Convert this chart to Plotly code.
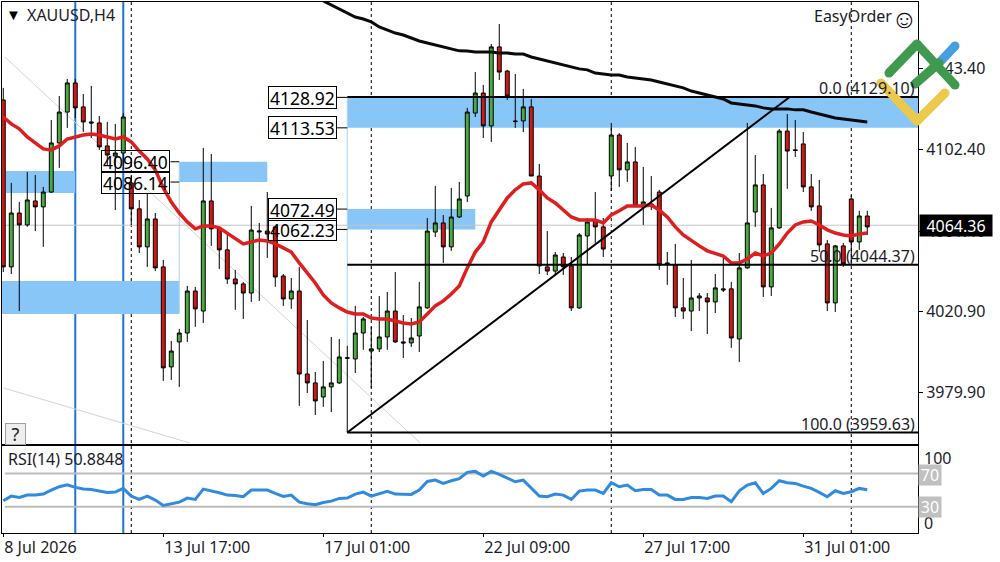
import plotly.graph_objects as go

W, H = 1000, 562
FONT = "Noto Sans"
TXT = "#1c1c28"

opens = [4127.6,4043.3,4070.5,4064.5,4076.6,4073.6,4081.1,4105.9,4121.5,4136.2,
 4124.1,4116.5,4116.0,4104.4,4099.3,4100.8,4085.7,4072.6,4053.4,4067.5,
 4043.3,3992.8,4005.4,4009.9,4031.1,4021.0,4076.6,4062.5,4051.9,4037.2,
 4034.7,4030.1,4060.9,4061.4,4063.5,4038.7,4027.1,4031.1,3989.2,3984.7,
 3977.6,3982.7,3984.7,3997.4,3996.8,4009.9,4000.8,4001.9,4007.9,4021.0,
 4005.4,4004.9,4008.4,4022.6,4060.9,4065.5,4053.4,4068.5,4079.1,4121.0,
 4131.1,4114.5,4154.4,4142.2,4117.0,4117.0,4124.1,4089.2,4043.3,4041.2,
 4048.3,4043.8,4022.6,4058.9,4067.0,4063.5,4089.2,4109.9,4092.3,4096.3,
 4073.6,4075.1,4081.1,4045.3,4044.3,4022.6,4021.0,4027.6,4027.6,4025.6,
 4032.2,4032.2,4006.9,4042.8,4071.0,4084.7,4033.2,4063.0,4111.9,4102.4,
 4105.4,4083.7,4074.1,4054.9,4025.1,4053.9,4077.6,4055.9,4069.0]
highs = [4133.7,4085.7,4076.1,4091.2,4089.7,4083.7,4117.5,4129.6,4138.2,4138.2,
 4130.6,4134.7,4119.5,4116.5,4115.5,4121.0,4089.7,4077.1,4080.6,4070.5,
 4046.8,4005.9,4012.0,4033.7,4033.2,4103.4,4100.3,4063.5,4060.4,4041.8,
 4035.7,4074.1,4065.5,4081.1,4064.0,4039.7,4037.7,4043.3,4016.5,3990.2,
 3995.8,4007.9,4006.9,4003.4,4023.6,4018.0,4013.0,4028.6,4030.6,4040.7,
 4019.0,4017.5,4035.7,4068.0,4084.2,4069.5,4083.2,4086.2,4123.6,4141.7,
 4135.2,4155.9,4166.0,4142.8,4140.7,4133.2,4128.1,4095.3,4061.4,4050.8,
 4050.3,4048.3,4060.4,4068.0,4081.1,4068.0,4116.0,4110.9,4105.9,4103.9,
 4093.8,4089.2,4082.2,4050.8,4054.9,4037.7,4046.8,4030.1,4030.1,4039.7,
 4047.8,4035.7,4050.3,4116.0,4099.8,4090.2,4073.1,4112.9,4120.5,4117.5,
 4111.4,4090.2,4087.2,4056.9,4054.4,4055.4,4079.6,4071.6,4071.6]
lows = [4040.7,4039.7,4021.0,4063.5,4061.4,4053.4,4080.6,4093.3,4113.5,4118.5,
 4111.4,4108.4,4102.4,4094.8,4072.0,4092.3,4064.5,4050.3,4043.3,4041.2,
 3985.7,3986.2,3982.7,4005.4,4013.0,4015.0,4053.9,4042.2,4034.7,4021.6,
 4017.0,4025.6,4026.1,4047.8,4033.2,4023.6,4022.1,3973.1,3979.6,3968.5,
 3972.6,3970.0,3984.2,3959.63,3989.7,4001.4,3982.2,4000.3,4001.4,4004.9,
 3997.3,4002.9,4000.3,4022.1,4058.4,4045.3,4051.4,4068.0,4076.1,4119.0,
 4108.4,4106.4,4137.7,4127.6,4113.5,4111.4,4089.2,4039.7,4039.2,4039.2,
 4039.2,4021.0,4022.1,4044.3,4055.4,4048.3,4081.6,4083.7,4086.2,4073.6,
 4064.5,4072.0,4041.8,4034.2,4018.0,4017.0,4010.9,4021.0,4009.4,4020.0,
 4030.6,4002.4,3995.3,4042.3,4063.5,4028.1,4028.6,4062.5,4082.7,4098.8,
 4081.1,4071.6,4050.8,4021.0,4020.5,4043.3,4044.8,4051.9,4059.4]
closes = [4043.3,4070.5,4064.5,4077.1,4073.6,4081.1,4105.9,4121.5,4136.2,4123.6,
 4116.5,4116.0,4103.9,4099.8,4100.8,4119.0,4072.6,4053.4,4067.5,4042.8,
 3992.3,4000.8,4009.9,4031.1,4022.1,4076.6,4062.5,4051.9,4037.2,4034.7,
 4030.1,4061.9,4061.4,4059.9,4038.2,4027.1,4031.1,3989.2,3984.7,3975.6,
 3982.7,3984.7,3997.8,3997.2,4009.9,4017.0,4001.9,4007.9,4021.0,4005.4,
 4004.9,4007.4,4023.1,4061.4,4065.5,4053.4,4068.5,4077.6,4121.5,4131.1,
 4114.5,4154.4,4141.7,4129.6,4116.7,4124.1,4089.2,4043.8,4041.2,4049.3,
 4043.3,4022.6,4059.4,4066.0,4063.5,4052.3,4109.9,4092.3,4096.3,4074.1,
 4076.1,4074.6,4044.3,4044.8,4022.6,4021.0,4027.6,4028.6,4025.6,4032.7,
 4031.7,4007.4,4042.8,4065.5,4084.7,4033.2,4063.0,4111.9,4101.8,4102.1,
 4083.7,4073.6,4054.4,4025.1,4053.9,4044.8,4055.9,4069.0,4063.5]

ma_red = [4119.0,4115.5,4113.0,4108.9,4105.9,4102.9,4102.4,4104.4,4107.9,4108.9,
 4109.9,4110.4,4109.9,4108.9,4107.9,4108.9,4106.4,4101.8,4097.8,4092.3,
 4083.2,4076.1,4070.5,4066.0,4062.5,4064.0,4064.0,4063.0,4060.4,4057.9,
 4054.9,4055.9,4056.9,4056.4,4054.9,4052.9,4050.8,4045.3,4040.2,4035.2,
 4029.1,4025.1,4022.6,4020.5,4019.5,4019.5,4017.5,4017.0,4017.0,4016.0,
 4015.0,4014.5,4015.5,4019.5,4023.6,4026.1,4029.6,4033.7,4042.8,4050.8,
 4055.9,4066.0,4072.0,4078.1,4082.2,4085.2,4085.7,4082.2,4078.1,4075.6,
 4072.0,4068.5,4067.0,4067.0,4067.0,4065.5,4069.5,4071.6,4074.1,4074.1,
 4074.1,4074.6,4072.0,4068.5,4063.5,4059.4,4056.4,4053.9,4051.4,4050.3,
 4048.8,4045.3,4045.3,4047.3,4050.3,4048.8,4050.3,4054.9,4060.4,4064.5,
 4066.0,4066.5,4064.5,4062.0,4060.4,4059.4,4058.9,4059.9,4060.4]

ma_black_start = 40
ma_black = [4177.6,4175.6,4173.6,4171.5,4169.5,4168.5,4167.0,4164.5,4162.9,4161.4,
 4160.4,4158.9,4157.4,4156.4,4155.4,4154.4,4153.4,4152.4,4152.3,4151.8,
 4151.8,4151.8,4151.3,4151.3,4150.8,4150.8,4149.3,4148.3,4147.3,4146.3,
 4145.3,4144.3,4143.3,4142.8,4141.2,4140.7,4140.2,4140.2,4139.2,4138.7,
 4138.2,4137.7,4136.7,4135.7,4134.7,4133.7,4132.1,4131.1,4130.1,4129.1,
 4128.1,4126.1,4125.6,4125.1,4124.6,4123.6,4123.1,4123.1,4123.1,4122.6,
 4122.6,4121.5,4120.5,4119.5,4118.5,4118.0,4117.5,4117.0,4116.5]

rsi = [37.2,42.8,41.2,44,44,45.2,50,54,56.4,53.2,
 51.2,50.8,48.8,47.2,47.6,52,42.8,38.8,42.8,38,
 31.6,33.2,35.6,40.4,38.8,51.2,49.2,46.8,44,43.6,
 42,50,50,50,46,42.4,44,35.6,33.6,32.4,
 35.2,36.8,40,40.4,45.2,47.6,42.8,45.2,48.4,45.2,
 44.8,44.8,50,60.4,62,58,61.2,63.6,71.2,72.4,
 66.8,72.4,68.8,64.8,60,62,52,42.8,42,45.2,
 44,38.8,48.8,50,50,46,58.8,54,56,49.2,
 50.8,50.8,44,44,38.8,38.8,41.2,41.2,40,42.8,
 42.8,36,49.2,56,58.8,46,52,61.2,58.8,58,
 54.8,52,47.2,42,49.2,46,48,52,50.4]

bar_index = list(range(len(closes)))
tick_index = [0, 20, 40, 60, 80, 100]
tick_text = ["8 Jul 2026", "13 Jul 17:00", "17 Jul 01:00", "22 Jul 09:00", "27 Jul 17:00", "31 Jul 01:00"]
price_ticks = [4143.40, 4102.40, 4061.40, 4020.90, 3979.90]
last_price = 4064.36
fib_levels = [("0.0", 4129.10), ("50.0", 4044.37), ("100.0", 3959.63)]
zones = [(0.3, 9, 4091.7, 4080.6), (-0.16, 22, 4036.2, 4019.5), (22, 33, 4096.40, 4086.14),
         (43, 59, 4072.49, 4062.23), (43, 114.4, 4128.92, 4113.53)]
boxed_labels = [(41.7, 43, 4128.92), (41.7, 43, 4113.53), (20.9, 22, 4096.40), (20.9, 22, 4086.14),
                (41.7, 43, 4072.49), (41.7, 43, 4062.23)]
blue_lines = [9, 15]
dashed_lines = [16, 46, 76, 106]

X_RANGE = [-0.16, 114.34]
Y_RANGE = [3953.85, 4177.08]
RSI_RANGE = [-1.4, 102.8]

def px(x): return x / W
def py(y): return 1 - y / H

traces = [
    go.Candlestick(x=bar_index, open=opens, high=highs, low=lows, close=closes,
                   increasing=dict(fillcolor="#4aa93f", line=dict(color="#000000", width=1)),
                   decreasing=dict(fillcolor="#cf1818", line=dict(color="#000000", width=1)),
                   whiskerwidth=0, xaxis="x", yaxis="y", hoverinfo="skip"),
    go.Scatter(x=bar_index, y=ma_red, mode="lines", line=dict(color="#dd1f1f", width=3.5),
               xaxis="x", yaxis="y", hoverinfo="skip"),
    go.Scatter(x=list(range(ma_black_start, ma_black_start + len(ma_black))), y=ma_black, mode="lines",
               line=dict(color="#0a0a0a", width=3), xaxis="x", yaxis="y", hoverinfo="skip"),
    go.Scatter(x=bar_index, y=rsi, mode="lines", line=dict(color="#2f8ae0", width=3),
               xaxis="x2", yaxis="y2", hoverinfo="skip"),
]

shapes = []
# faint old trend lines
shapes.append(dict(type="line", xref="x", yref="y", x0=0.2, y0=4149.3, x1=52.1, y1=3954.4,
                   line=dict(color="#d4d4d4", width=1), layer="below"))
shapes.append(dict(type="line", xref="x", yref="y", x0=0, y0=3982.2, x1=23.3, y1=3954.4,
                   line=dict(color="#d4d4d4", width=1), layer="below"))
# zones
for x0, x1, top, bot in zones:
    shapes.append(dict(type="rect", xref="x", yref="y", x0=x0, x1=x1, y0=bot, y1=top,
                       fillcolor="#87c6f7", line=dict(width=0), layer="below"))
# thin zone edges
shapes.append(dict(type="line", xref="x", yref="y", x0=22, x1=22, y0=4019.5, y1=4096.40,
                   line=dict(color="#a9d3f2", width=1), layer="below"))
shapes.append(dict(type="line", xref="x", yref="y", x0=43, x1=43, y0=4003.4, y1=4128.92,
                   line=dict(color="#a9d3f2", width=1), layer="below"))
# last price line
shapes.append(dict(type="line", xref="x", yref="y", x0=X_RANGE[0], x1=X_RANGE[1], y0=last_price, y1=last_price,
                   line=dict(color="#c4c4c4", width=1), layer="below"))
# session lines
for i in dashed_lines:
    shapes.append(dict(type="line", xref="x", yref="paper", x0=i, x1=i, y0=py(533), y1=py(2),
                       line=dict(color="#000000", width=1, dash="3px,3px"), layer="below"))
for i in blue_lines:
    shapes.append(dict(type="line", xref="x", yref="paper", x0=i, x1=i, y0=py(533), y1=py(2),
                       line=dict(color="#1f74cf", width=2), layer="below"))
# fib levels
for _, lv in fib_levels:
    shapes.append(dict(type="line", xref="x", yref="y", x0=43, x1=X_RANGE[1], y0=lv, y1=lv,
                       line=dict(color="#000000", width=2), layer="above"))
shapes.append(dict(type="line", xref="x", yref="y", x0=43, x1=98.3, y0=3959.63, y1=4129.10,
                   line=dict(color="#000000", width=2), layer="above"))
# RSI levels
for lv in (70, 30):
    shapes.append(dict(type="line", xref="x2", yref="y2", x0=0.2, x1=X_RANGE[1], y0=lv, y1=lv,
                       line=dict(color="#bcbcbc", width=2), layer="below"))
# label connectors
for x0, x1, lv in boxed_labels:
    shapes.append(dict(type="line", xref="x", yref="y", x0=x0, x1=x1, y0=lv, y1=lv,
                       line=dict(color="#000000", width=1), layer="above"))

def logo_seg(pts, color, width=9):
    out = []
    for (x0, y0), (x1, y1) in zip(pts, pts[1:]):
        out.append(dict(type="line", xref="paper", yref="paper", x0=px(x0), y0=py(y0), x1=px(x1), y1=py(y1),
                        line=dict(color=color, width=width), layer="above"))
    r = width / 2
    for (x, y) in pts:
        out.append(dict(type="circle", xref="paper", yref="paper", x0=px(x - r), x1=px(x + r),
                        y0=py(y + r), y1=py(y - r), fillcolor=color, line=dict(width=0), layer="above"))
    return out

shapes += logo_seg([(939, 63), (955, 46)], "#46a0e0")
shapes += logo_seg([(881, 83), (917, 121), (945, 93)], "#ecc94b")
shapes += logo_seg([(889, 73), (917, 44), (955, 85)], "#3f9a4f")
shapes += logo_seg([(915, 84), (939, 63)], "#3f9a4f")

annotations = []
def note(text, x, y, size=16, color=TXT, xanchor="left", yanchor="middle", **kw):
    annotations.append(dict(text=text, xref="paper", yref="paper", x=px(x), y=py(y), showarrow=False,
                            xanchor=xanchor, yanchor=yanchor, font=dict(family=FONT, size=size, color=color),
                            borderpad=kw.pop("borderpad", 0), **kw))

note("XAUUSD,H4", 25.5, 15.5)
note("▼", 5, 14, size=15, color="#000000")
note("EasyOrder", 813, 16)
note("☺", 904, 18, size=26, color="#111111", xanchor="center")
note("?", 15, 434, size=18, color="#222222", xanchor="center", bgcolor="#eeeeee",
     bordercolor="#a0a0a0", borderwidth=1, borderpad=1, width=17, height=18)
note("RSI(14) 50.8848", 7, 459, size=16)

for name, lv in fib_levels:
    annotations.append(dict(text=f"{name} ({lv:.2f})", xref="paper", yref="y", x=px(916.5), y=lv, yshift=9,
                            showarrow=False, xanchor="right", yanchor="middle",
                            font=dict(family=FONT, size=16, color=TXT)))
for x0, x1, lv in boxed_labels:
    annotations.append(dict(text=f"{lv:.2f}", xref="x", yref="y", x=x0, y=lv, showarrow=False, xanchor="right",
                            yanchor="middle", font=dict(family=FONT, size=17.5, color="#000000"),
                            bordercolor="#000000", borderwidth=1, borderpad=1, height=19))
annotations.append(dict(text=f"{last_price:.2f}", xref="paper", yref="y", x=px(956), y=last_price, showarrow=False,
                        xanchor="center", yanchor="middle", yshift=0, font=dict(family=FONT, size=16, color="#ffffff"),
                        bgcolor="#000000", width=70, height=19))
for val, label, shift in [(100, "100", -10), (0, "0", 9)]:
    annotations.append(dict(text=label, xref="paper", yref="y2", x=px(922), y=val, yshift=shift, showarrow=False,
                            xanchor="left", yanchor="middle", font=dict(family=FONT, size=16, color=TXT)))
for val, shift in [(70, -2), (30, 0)]:
    annotations.append(dict(text=str(val), xref="paper", yref="y2", x=px(930), y=val, yshift=shift, showarrow=False,
                            xanchor="center", yanchor="middle", font=dict(family=FONT, size=16, color="#ffffff"),
                            bgcolor="#c0c0c0", width=20, height=18))

layout = dict(
    width=W, height=H, margin=dict(l=0, r=0, t=0, b=0), paper_bgcolor="#ffffff", plot_bgcolor="rgba(0,0,0,0)",
    showlegend=False, hovermode=False, shapes=shapes, annotations=annotations,
    xaxis=dict(domain=[px(2), px(918)], range=X_RANGE, anchor="y", rangeslider=dict(visible=False),
               showgrid=False, zeroline=False, showticklabels=False, ticks="",
               showline=True, linecolor="#000000", linewidth=1, mirror=True),
    yaxis=dict(domain=[py(444), py(2)], range=Y_RANGE, anchor="x", side="right", showgrid=False, zeroline=False,
               tickmode="array", tickvals=price_ticks, ticktext=[f"{v:.2f}" for v in price_ticks],
               ticks="outside", ticklen=4, tickcolor="#000000", showline=True, linecolor="#000000",
               linewidth=1, mirror=True, tickfont=dict(family=FONT, size=16, color=TXT)),
    xaxis2=dict(domain=[px(2), px(918)], range=X_RANGE, anchor="y2", showgrid=False, zeroline=False,
                tickmode="array", tickvals=tick_index, ticktext=tick_text, ticks="outside", ticklen=3,
                tickcolor="#000000", ticklabelposition="outside right", showline=True, linecolor="#000000",
                linewidth=1, mirror=True, tickfont=dict(family=FONT, size=16, color=TXT)),
    yaxis2=dict(domain=[py(533), py(446)], range=RSI_RANGE, anchor="x2", side="right", showgrid=False,
                zeroline=False, showticklabels=False, ticks="", showline=True, linecolor="#000000",
                linewidth=1, mirror=True),
)

fig = go.Figure(data=traces, layout=layout)
fig.write_html("out.html", config=dict(displayModeBar=False), post_script="document.body.style.margin='0';")
